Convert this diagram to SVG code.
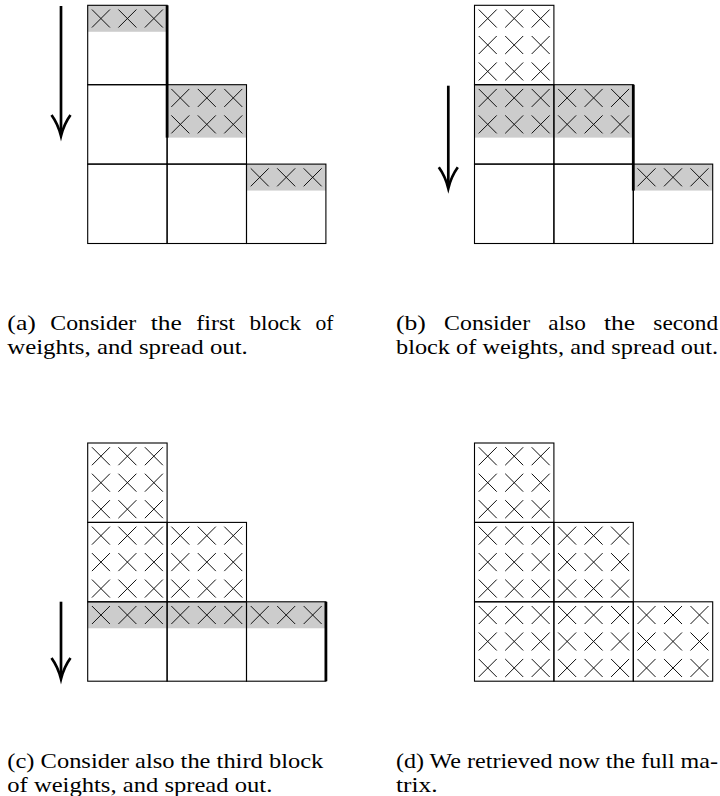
<svg xmlns="http://www.w3.org/2000/svg" xmlns:xlink="http://www.w3.org/1999/xlink" width="720" height="796" viewBox="0 0 720 796">
<style>
.g{fill:#cccccc;stroke:none}
.cell{fill:none;stroke:#000;stroke-width:1.1}
.thick{stroke:#000;stroke-width:2.8;fill:none}
.arr{stroke:#000;stroke-width:2.7;fill:none;stroke-linejoin:miter;stroke-miterlimit:10}
.cap{font-family:"Liberation Serif","Times New Roman",serif;font-size:22px;fill:#000}
</style>
<defs>
<path id="x" d="M-9,-9L9,9M9,-9L-9,9" stroke="#111" stroke-width="1" fill="none"/>
<g id="r3"><use href="#x" x="13.23" y="13.23"/><use href="#x" x="39.7" y="13.23"/><use href="#x" x="66.17" y="13.23"/></g>
<g id="c9"><use href="#r3"/><use href="#r3" y="26.467"/><use href="#r3" y="52.933"/></g>
<g id="stair">
<rect class="cell" x="0" y="0" width="79.4" height="79.4"/>
<rect class="cell" x="0" y="79.4" width="79.4" height="79.4"/>
<rect class="cell" x="0" y="158.8" width="79.4" height="79.4"/>
<rect class="cell" x="79.4" y="79.4" width="79.4" height="79.4"/>
<rect class="cell" x="79.4" y="158.8" width="79.4" height="79.4"/>
<rect class="cell" x="158.8" y="158.8" width="79.4" height="79.4"/>
</g>
</defs>
<rect x="0" y="0" width="720" height="796" fill="#fff"/>

<g id="panel-a" transform="translate(87.7,5.3)">
<rect class="g" x="0" y="0" width="79.4" height="26.47"/>
<rect class="g" x="79.4" y="79.4" width="79.4" height="52.93"/>
<rect class="g" x="158.8" y="158.8" width="79.4" height="26.47"/>
<use href="#r3" x="0" y="0"/>
<use href="#r3" x="79.4" y="79.4"/>
<use href="#r3" x="79.4" y="105.87"/>
<use href="#r3" x="158.8" y="158.8"/>
<use href="#stair"/>
<line class="thick" x1="79.4" y1="0" x2="79.4" y2="132.33"/>
</g>

<g id="panel-b" transform="translate(474.5,5.3)">
<rect class="g" x="0" y="79.4" width="158.8" height="52.93"/>
<rect class="g" x="158.8" y="158.8" width="79.4" height="26.47"/>
<use href="#c9" x="0" y="0"/>
<use href="#r3" x="0" y="79.4"/>
<use href="#r3" x="79.4" y="79.4"/>
<use href="#r3" x="0" y="105.87"/>
<use href="#r3" x="79.4" y="105.87"/>
<use href="#r3" x="158.8" y="158.8"/>
<use href="#stair"/>
<line class="thick" x1="158.8" y1="79.4" x2="158.8" y2="185.27"/>
</g>

<g id="panel-c" transform="translate(87.7,443)">
<rect class="g" x="0" y="158.8" width="238.2" height="26.47"/>
<use href="#c9" x="0" y="0"/>
<use href="#c9" x="0" y="79.4"/>
<use href="#c9" x="79.4" y="79.4"/>
<use href="#r3" x="0" y="158.8"/>
<use href="#r3" x="79.4" y="158.8"/>
<use href="#r3" x="158.8" y="158.8"/>
<use href="#stair"/>
<line class="thick" x1="238.2" y1="158.8" x2="238.2" y2="238.2"/>
</g>

<g id="panel-d" transform="translate(474.5,443)">
<use href="#c9" x="0" y="0"/>
<use href="#c9" x="0" y="79.4"/>
<use href="#c9" x="79.4" y="79.4"/>
<use href="#c9" x="0" y="158.8"/>
<use href="#c9" x="79.4" y="158.8"/>
<use href="#c9" x="158.8" y="158.8"/>
<use href="#stair"/>
</g>

<g id="connectors">
<path class="arr" d="M61,6V133"/>
<path class="arr" d="M51.5,115Q58,124 61,136Q64,124 70.5,115"/>
<path class="arr" d="M448.3,85.7V185.3"/>
<path class="arr" d="M438.8,167.3Q445.3,176.3 448.3,188.3Q451.3,176.3 457.8,167.3"/>
<path class="arr" d="M61,601.7V676"/>
<path class="arr" d="M51.5,658Q58,667 61,679Q64,667 70.5,658"/>
</g>

<g id="captions">
<text class="cap" x="7.3" y="330" textLength="28.6" lengthAdjust="spacingAndGlyphs">(a)</text>
<text class="cap" x="50.3" y="330" textLength="86" lengthAdjust="spacingAndGlyphs">Consider</text>
<text class="cap" x="150.7" y="330" textLength="31.1" lengthAdjust="spacingAndGlyphs">the</text>
<text class="cap" x="196.2" y="330" textLength="38.8" lengthAdjust="spacingAndGlyphs">first</text>
<text class="cap" x="249.4" y="330" textLength="51.7" lengthAdjust="spacingAndGlyphs">block</text>
<text class="cap" x="315.5" y="330" textLength="18" lengthAdjust="spacingAndGlyphs">of</text>
<text class="cap" x="7.3" y="354" textLength="240.5" lengthAdjust="spacingAndGlyphs">weights, and spread out.</text>

<text class="cap" x="396" y="330" textLength="29.9" lengthAdjust="spacingAndGlyphs">(b)</text>
<text class="cap" x="444.1" y="330" textLength="86" lengthAdjust="spacingAndGlyphs">Consider</text>
<text class="cap" x="548.3" y="330" textLength="37.5" lengthAdjust="spacingAndGlyphs">also</text>
<text class="cap" x="604" y="330" textLength="31.1" lengthAdjust="spacingAndGlyphs">the</text>
<text class="cap" x="653.3" y="330" textLength="64.8" lengthAdjust="spacingAndGlyphs">second</text>
<text class="cap" x="396" y="354" textLength="322" lengthAdjust="spacingAndGlyphs">block of weights, and spread out.</text>

<text class="cap" x="7.3" y="768" textLength="316" lengthAdjust="spacingAndGlyphs">(c) Consider also the third block</text>
<text class="cap" x="7.3" y="792" textLength="265" lengthAdjust="spacingAndGlyphs">of weights, and spread out.</text>

<text class="cap" x="396" y="768" textLength="322" lengthAdjust="spacingAndGlyphs">(d) We retrieved now the full ma-</text>
<text class="cap" x="396" y="792" textLength="41.5" lengthAdjust="spacingAndGlyphs">trix.</text>
</g>
</svg>
